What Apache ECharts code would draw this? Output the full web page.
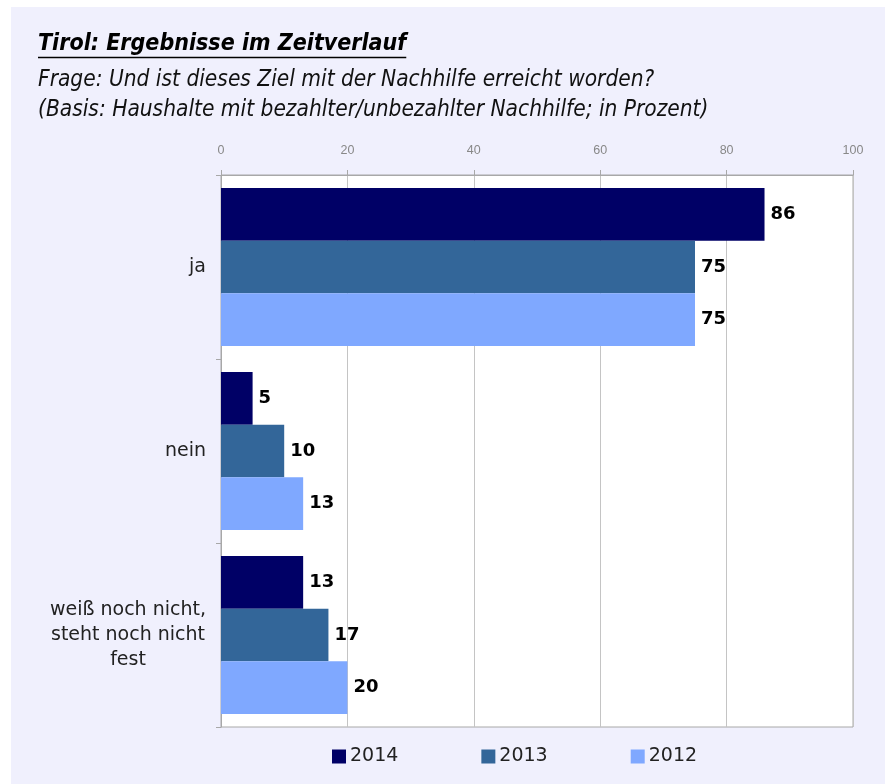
<!DOCTYPE html>
<html>
<head>
<meta charset="utf-8">
<script src="https://cdn.jsdelivr.net/npm/echarts@6/dist/echarts.min.js"></script>
<style>
  body { margin: 0; background: #fff; }
  #bg { position: absolute; left: 11px; top: 7px; width: 874px; height: 777px; background: #f0f0fd; }
  #chart { position: absolute; left: 0; top: 0; width: 885px; height: 784px; }
</style>
</head>
<body>
<div id="bg"></div>
<div id="chart"></div>
<script>
// Kategorien und Werte (in Prozent)
const categories = ['ja', 'nein', 'weiß noch nicht,\nsteht noch nicht\nfest'];
const years = ['2014', '2013', '2012'];
const values2014 = [86, 5, 13];
const values2013 = [75, 10, 17];
const values2012 = [75, 13, 20];
const xTicks = [0, 20, 40, 60, 80, 100];

const colors = ['#000066', '#336699', '#7fa8ff'];
const titleFont = '"Liberation Sans Narrow", "DejaVu Sans Condensed", sans-serif';

const myChart = echarts.init(document.getElementById('chart'));

// Breite des Titels messen, fuer die Unterstreichung
const cv = document.createElement('canvas').getContext('2d');
cv.font = 'italic bold 23px ' + titleFont;
const titleText = 'Tirol: Ergebnisse im Zeitverlauf';
const titleW = cv.measureText(titleText).width;

function bar(name, data, color) {
  return {
    name: name,
    type: 'bar',
    data: data,
    barGap: 0,
    barCategoryGap: '14%',
    itemStyle: { color: color },
    label: {
      show: true,
      position: 'right',
      distance: 6,
      color: '#000',
      fontFamily: 'DejaVu Sans',
      fontWeight: 'bold',
      fontSize: 18
    }
  };
}

myChart.setOption({
  backgroundColor: 'transparent',
  color: colors,
  animation: false,
  graphic: [
    { type: 'text', left: 38, top: 33,
      style: { text: titleText, font: 'italic bold 23px ' + titleFont, fill: '#000' } },
    { type: 'line', shape: { x1: 38, y1: 57.5, x2: 38 + titleW, y2: 57.5 },
      style: { stroke: '#000', lineWidth: 1.5 } },
    { type: 'text', left: 38, top: 69,
      style: { text: 'Frage: Und ist dieses Ziel mit der Nachhilfe erreicht worden?', font: 'italic 22.5px ' + titleFont, fill: '#111' } },
    { type: 'text', left: 38, top: 99,
      style: { text: '(Basis: Haushalte mit bezahlter/unbezahlter Nachhilfe; in Prozent)', font: 'italic 22.5px ' + titleFont, fill: '#111' } }
  ],
  legend: {
    data: years,
    bottom: 13,
    left: 327,
    itemWidth: 14,
    itemHeight: 14,
    itemGap: 83,
    icon: 'rect',
    textStyle: { fontFamily: 'DejaVu Sans', fontSize: 19, color: '#222', padding: [0, 0, 0, -1] }
  },
  grid: {
    left: 221,
    right: 32,
    top: 175,
    bottom: 57,
    show: true,
    backgroundColor: '#fff',
    borderColor: '#a8a8a8',
    borderWidth: 1
  },
  xAxis: {
    type: 'value',
    position: 'top',
    min: xTicks[0],
    max: xTicks[xTicks.length - 1],
    interval: 20,
    axisLine: { show: true, lineStyle: { color: '#a8a8a8' } },
    axisTick: { show: true, length: 5, lineStyle: { color: '#a8a8a8' } },
    axisLabel: { color: '#888', fontFamily: 'Liberation Sans', fontSize: 12.5, margin: 18 },
    splitLine: { show: true, lineStyle: { color: '#c4c4c4' } }
  },
  yAxis: {
    type: 'category',
    inverse: true,
    data: categories,
    axisLine: { show: true, lineStyle: { color: '#a8a8a8' } },
    axisTick: { show: true, length: 5, lineStyle: { color: '#a8a8a8' } },
    axisLabel: {
      margin: 15,
      lineHeight: 25,
      formatter: function (v) {
        return v.split('\n').map(function (s) { return '{c|' + s + '}'; }).join('\n');
      },
      rich: {
        c: { align: 'center', fontFamily: 'DejaVu Sans', fontSize: 19, color: '#222', lineHeight: 25 }
      }
    }
  },
  series: [
    bar(years[0], values2014, colors[0]),
    bar(years[1], values2013, colors[1]),
    bar(years[2], values2012, colors[2])
  ]
});
</script>
</body>
</html>
